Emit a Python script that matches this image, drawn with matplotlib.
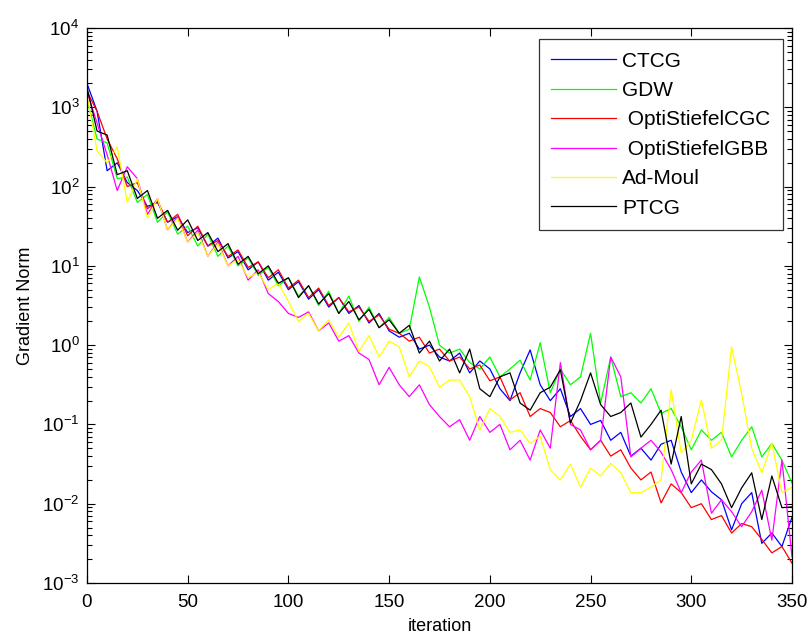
import matplotlib
matplotlib.use('Agg')
import matplotlib.pyplot as plt
from matplotlib.ticker import NullFormatter, LogLocator
import numpy as np

plt.rcParams['font.family'] = ['Liberation Sans', 'DejaVu Sans']

# iteration index (every 5th iteration)
iters = np.arange(0, 351, 5)

# log10 of the gradient norm
ctcg = [3.30, 2.95, 2.20, 2.30, 2.05, 1.95, 1.75, 1.80, 1.55, 1.62,
        1.42, 1.48, 1.25, 1.35, 1.10, 1.18, 0.95, 1.05, 0.82, 0.92,
        0.70, 0.80, 0.58, 0.70, 0.48, 0.60, 0.40, 0.50, 0.28, 0.40,
        0.18, 0.10, 0.15, -0.05, 0.00, -0.15, -0.20, -0.10, -0.35, -0.20,
        -0.30, -0.55, -0.70, -0.35, -0.06, -0.50, -0.70, -0.55, -0.90, -0.80,
        -1.00, -0.95, -1.20, -1.10, -1.40, -1.30, -1.45, -1.25, -1.20, -1.60,
        -1.86, -1.70, -1.85, -1.95, -2.33, -2.00, -1.86, -2.50, -2.37, -2.54,
        -2.17]
gdw = [3.10, 2.60, 2.55, 2.10, 2.12, 1.80, 1.90, 1.55, 1.68, 1.40,
       1.50, 1.25, 1.40, 1.12, 1.25, 1.00, 1.10, 0.88, 0.98, 0.75,
       0.85, 0.62, 0.75, 0.50, 0.68, 0.40, 0.62, 0.30, 0.48, 0.22,
       0.35, 0.15, 0.20, 0.86, 0.48, 0.00, -0.10, -0.05, -0.22, -0.30,
       -0.15, -0.40, -0.30, -0.19, -0.44, 0.03, -0.60, -0.30, -0.50, -0.40,
       0.15, -0.73, -0.15, -0.65, -0.60, -0.73, -0.55, -0.86, -0.80, -1.03,
       -1.32, -1.07, -1.20, -1.10, -1.41, -1.20, -1.03, -1.41, -1.24, -1.45,
       -1.74]
cgc = [3.20, 2.95, 2.60, 2.35, 2.00, 2.05, 1.72, 1.82, 1.55, 1.65,
       1.38, 1.50, 1.25, 1.32, 1.12, 1.20, 0.98, 1.05, 0.85, 0.95,
       0.72, 0.82, 0.60, 0.72, 0.50, 0.60, 0.42, 0.48, 0.30, 0.38,
       0.20, 0.15, 0.05, 0.10, -0.10, -0.05, -0.20, -0.15, -0.30, -0.25,
       -0.45, -0.40, -0.69, -0.60, -0.90, -0.80, -0.85, -1.03, -0.95, -1.15,
       -1.32, -1.20, -1.40, -1.32, -1.55, -1.70, -1.60, -1.99, -1.75, -1.86,
       -2.05, -2.00, -2.20, -2.15, -2.37, -2.25, -2.29, -2.45, -2.62, -2.54,
       -2.75]
gbb = [3.20, 2.80, 2.40, 1.95, 2.25, 2.10, 1.65, 1.85, 1.45, 1.62,
       1.30, 1.45, 1.12, 1.30, 1.00, 1.12, 0.82, 0.95, 0.65, 0.55,
       0.40, 0.35, 0.42, 0.18, 0.28, 0.05, 0.12, -0.10, -0.18, -0.50,
       -0.28, -0.50, -0.65, -0.50, -0.75, -0.90, -1.03, -0.94, -1.20, -0.90,
       -1.10, -1.00, -1.32, -1.20, -1.45, -1.07, -1.30, -0.22, -1.00, -1.07,
       -1.32, -1.20, -0.15, -0.40, -1.41, -1.30, -1.20, -1.35, -1.57, -1.86,
       -1.60, -1.45, -2.12, -1.95, -2.10, -2.29, -2.10, -1.83, -2.46, -1.45,
       -2.67]
admoul = [3.15, 2.45, 2.30, 2.50, 1.80, 2.10, 1.60, 1.85, 1.45, 1.60,
          1.30, 1.42, 1.12, 1.28, 1.00, 1.08, 0.85, 0.92, 0.70, 0.78,
          0.55, 0.30, 0.40, 0.18, 0.32, 0.10, 0.28, -0.08, 0.12, -0.15,
          0.05, -0.02, -0.40, -0.20, -0.27, -0.53, -0.44, -0.44, -0.65, -1.07,
          -0.80, -0.90, -1.10, -1.07, -1.24, -1.15, -1.57, -1.70, -1.50, -1.79,
          -1.55, -1.65, -1.49, -1.61, -1.86, -1.86, -1.79, -1.70, -0.56, -1.36,
          -1.20, -0.69, -1.30, -1.20, -0.02, -0.61, -1.30, -1.61, -1.24, -1.86,
          -1.79]
ptcg = [3.25, 2.70, 2.65, 2.15, 2.20, 1.85, 1.95, 1.60, 1.70, 1.45,
        1.58, 1.32, 1.42, 1.18, 1.28, 1.02, 1.12, 0.90, 1.00, 0.78,
        0.85, 0.60, 0.75, 0.52, 0.65, 0.40, 0.55, 0.32, 0.45, 0.22,
        0.32, 0.15, 0.25, -0.10, 0.05, -0.20, -0.05, -0.35, -0.05, -0.55,
        -0.65, -0.40, -0.35, -0.73, -0.82, -0.60, -0.53, -0.31, -0.98, -0.70,
        -0.35, -0.75, -0.90, -0.85, -0.73, -1.16, -1.00, -0.82, -1.50, -0.90,
        -1.75, -1.50, -1.57, -1.75, -2.05, -1.80, -1.61, -2.20, -1.65, -2.05,
        -2.04]

series = [
    (ctcg, 'b', 'CTCG'),
    (gdw, 'g', 'GDW'),
    (cgc, 'r', ' OptiStiefelCGC'),
    (gbb, 'm', ' OptiStiefelGBB'),
    (admoul, 'y', 'Ad-Moul'),
    (ptcg, 'k', 'PTCG'),
]
colors = {'b': (0, 0, 1), 'g': (0, 1, 0), 'r': (1, 0, 0),
          'm': (1, 0, 1), 'y': (1, 1, 0), 'k': (0, 0, 0)}

fig = plt.figure(figsize=(8.11, 6.43), dpi=100)
ax = fig.add_axes([87 / 811, 60 / 643, 705 / 811, 555 / 643])

for vals, c, name in series:
    ax.semilogy(iters, 10.0 ** np.array(vals), color=colors[c], lw=0.9, label=name)

ax.set_xlim(0, 350)
ax.set_ylim(1e-3, 1e4)
ax.set_xticks(np.arange(0, 351, 50))
ax.set_yticks([10.0 ** k for k in range(-3, 5)])
ax.yaxis.set_minor_locator(LogLocator(base=10, subs=np.arange(2, 10), numticks=20))
ax.yaxis.set_minor_formatter(NullFormatter())
ax.set_ylim(1e-3, 1e4)
ax.tick_params(which='both', direction='in', top=True, right=True, labelsize=13.5, width=0.8)
ax.tick_params(which='major', length=6)
ax.tick_params(which='minor', length=3.5)
ax.tick_params(axis='x', pad=8)
ax.tick_params(axis='y', pad=5.5)
for sp in ax.spines.values():
    sp.set_linewidth(0.9)

ax.set_xlabel('iteration', fontsize=13, labelpad=5)
ax.set_ylabel('Gradient Norm', fontsize=13, labelpad=6)

leg = ax.legend(loc='upper right', bbox_to_anchor=(0.987, 0.980), borderaxespad=0,
                fontsize=15, frameon=True, fancybox=False, handlelength=3.1,
                handletextpad=0.3, labelspacing=0.5, borderpad=0.6)
leg.get_frame().set_edgecolor('black')
leg.get_frame().set_linewidth(0.9)

fig.savefig('out.png', dpi=100)
